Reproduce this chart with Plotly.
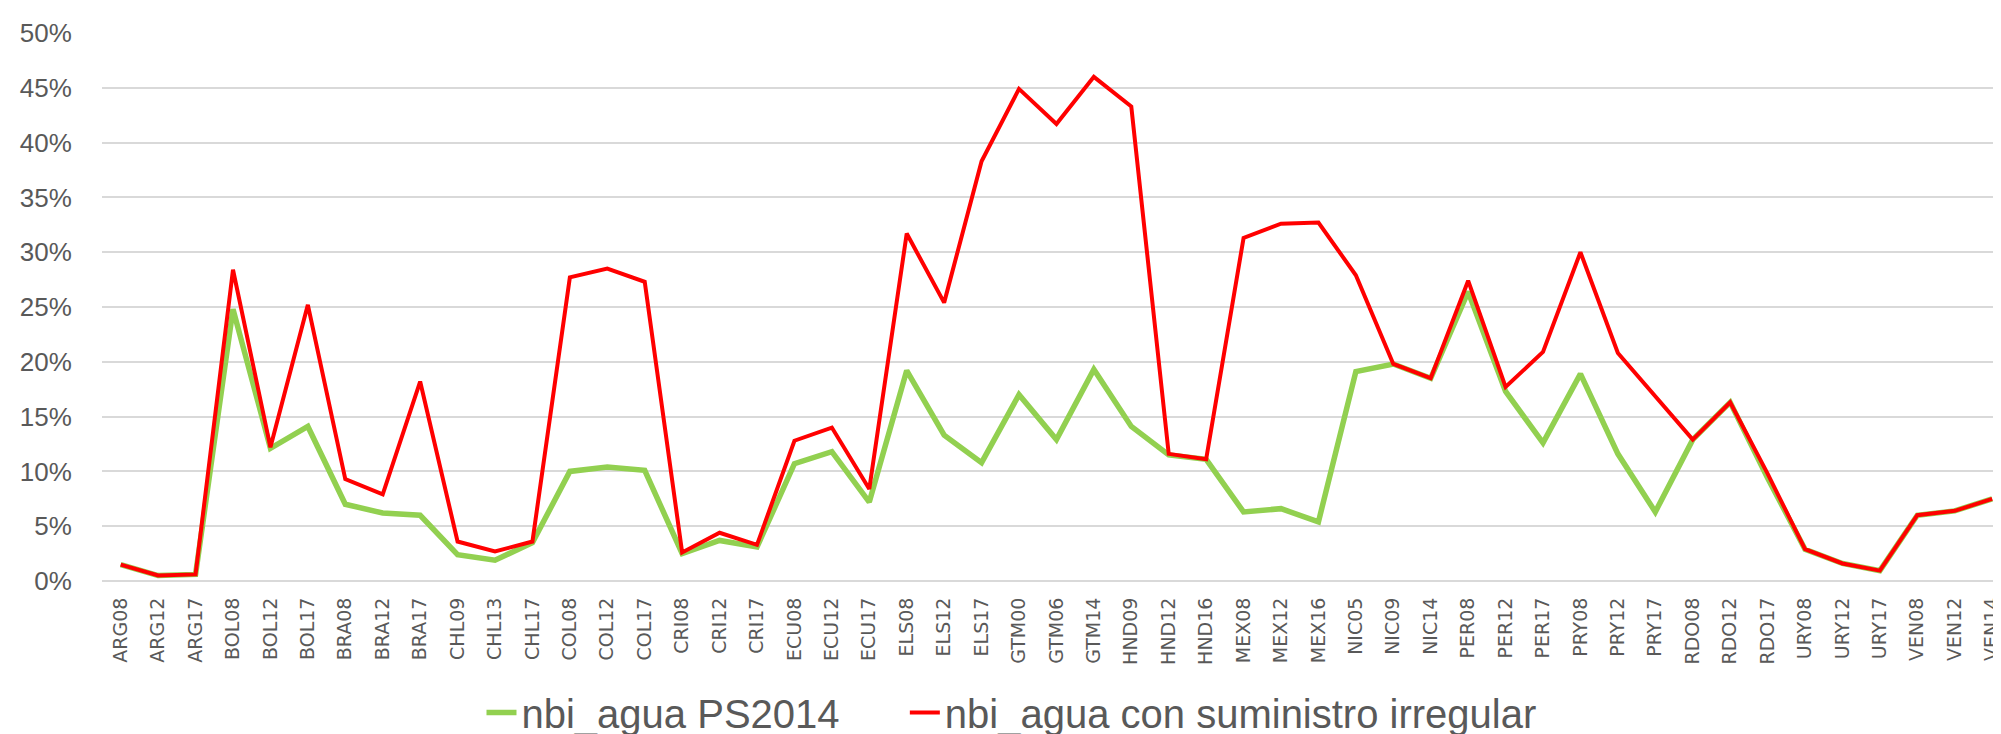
import plotly.graph_objects as go

categories = ["ARG08","ARG12","ARG17","BOL08","BOL12","BOL17","BRA08","BRA12","BRA17",
              "CHL09","CHL13","CHL17","COL08","COL12","COL17","CRI08","CRI12","CRI17",
              "ECU08","ECU12","ECU17","ELS08","ELS12","ELS17","GTM00","GTM06","GTM14",
              "HND09","HND12","HND16","MEX08","MEX12","MEX16","NIC05","NIC09","NIC14",
              "PER08","PER12","PER17","PRY08","PRY12","PRY17","RDO08","RDO12","RDO17",
              "URY08","URY12","URY17","VEN08","VEN12","VEN14"]

nbi_ps2014 = [1.5, 0.5, 0.6, 24.8, 12.1, 14.1, 7.0, 6.2, 6.0,
              2.4, 1.9, 3.5, 10.0, 10.4, 10.1, 2.5, 3.7, 3.1,
              10.7, 11.8, 7.2, 19.2, 13.3, 10.8, 17.0, 12.9, 19.3,
              14.1, 11.5, 11.1, 6.3, 6.6, 5.4, 19.1, 19.8, 18.5,
              26.4, 17.3, 12.6, 18.9, 11.6, 6.3, 12.9, 16.3, 9.4,
              2.9, 1.6, 0.95, 6.0, 6.4, 7.5]

nbi_irregular = [1.5, 0.5, 0.6, 28.4, 12.2, 25.2, 9.3, 7.9, 18.2,
                 3.6, 2.7, 3.6, 27.7, 28.5, 27.3, 2.6, 4.4, 3.3,
                 12.8, 14.0, 8.4, 31.7, 25.4, 38.3, 44.9, 41.7, 46.0,
                 43.3, 11.6, 11.1, 31.3, 32.6, 32.7, 27.9, 19.8, 18.5,
                 27.4, 17.7, 20.9, 30.0, 20.8, 16.9, 12.9, 16.3, 9.8,
                 2.9, 1.6, 0.95, 6.0, 6.4, 7.5]

y_ticks = [0, 0.05, 0.10, 0.15, 0.20, 0.25, 0.30, 0.35, 0.40, 0.45, 0.50]

fig = go.Figure()
fig.add_trace(go.Scatter(
    x=categories, y=[v / 100 for v in nbi_ps2014], mode="lines",
    name="nbi_agua PS2014", line=dict(color="#92D050", width=5.5), legend="legend"))
fig.add_trace(go.Scatter(
    x=categories, y=[v / 100 for v in nbi_irregular], mode="lines",
    name="nbi_agua con suministro irregular", line=dict(color="#FF0000", width=4),
    legend="legend2"))

legend_font = dict(family="Liberation Sans, Arial, sans-serif", size=40, color="#595959")
fig.update_layout(
    width=2001, height=734,
    paper_bgcolor="white", plot_bgcolor="white",
    margin=dict(l=94, r=0, t=25, b=161, autoexpand=False),
    showlegend=True,
    legend=dict(orientation="h", x=0.199, xanchor="left", y=-0.24, yanchor="middle",
                font=legend_font, bgcolor="rgba(0,0,0,0)"),
    legend2=dict(orientation="h", x=0.421, xanchor="left", y=-0.24, yanchor="middle",
                 font=legend_font, bgcolor="rgba(0,0,0,0)"),
)
fig.update_xaxes(
    type="category", range=[-0.5, 50.45], tickangle=-90, automargin=False,
    showgrid=False, showline=False, zeroline=False, ticklabeloverflow="allow",
    ticks="outside", ticklen=8, tickcolor="rgba(0,0,0,0)",
    tickfont=dict(family="DejaVu Sans, sans-serif", size=19, color="#595959"))
fig.update_yaxes(
    range=[0, 0.5], tickvals=y_ticks, tickformat=".0%", automargin=False,
    showgrid=True, gridcolor="#D9D9D9", gridwidth=2,
    zeroline=True, zerolinecolor="#D9D9D9", zerolinewidth=2, showline=False,
    ticks="outside", ticklen=24, tickcolor="rgba(0,0,0,0)",
    tickfont=dict(family="Liberation Sans, Arial, sans-serif", size=26, color="#595959"))

fig.write_html("out.html")
